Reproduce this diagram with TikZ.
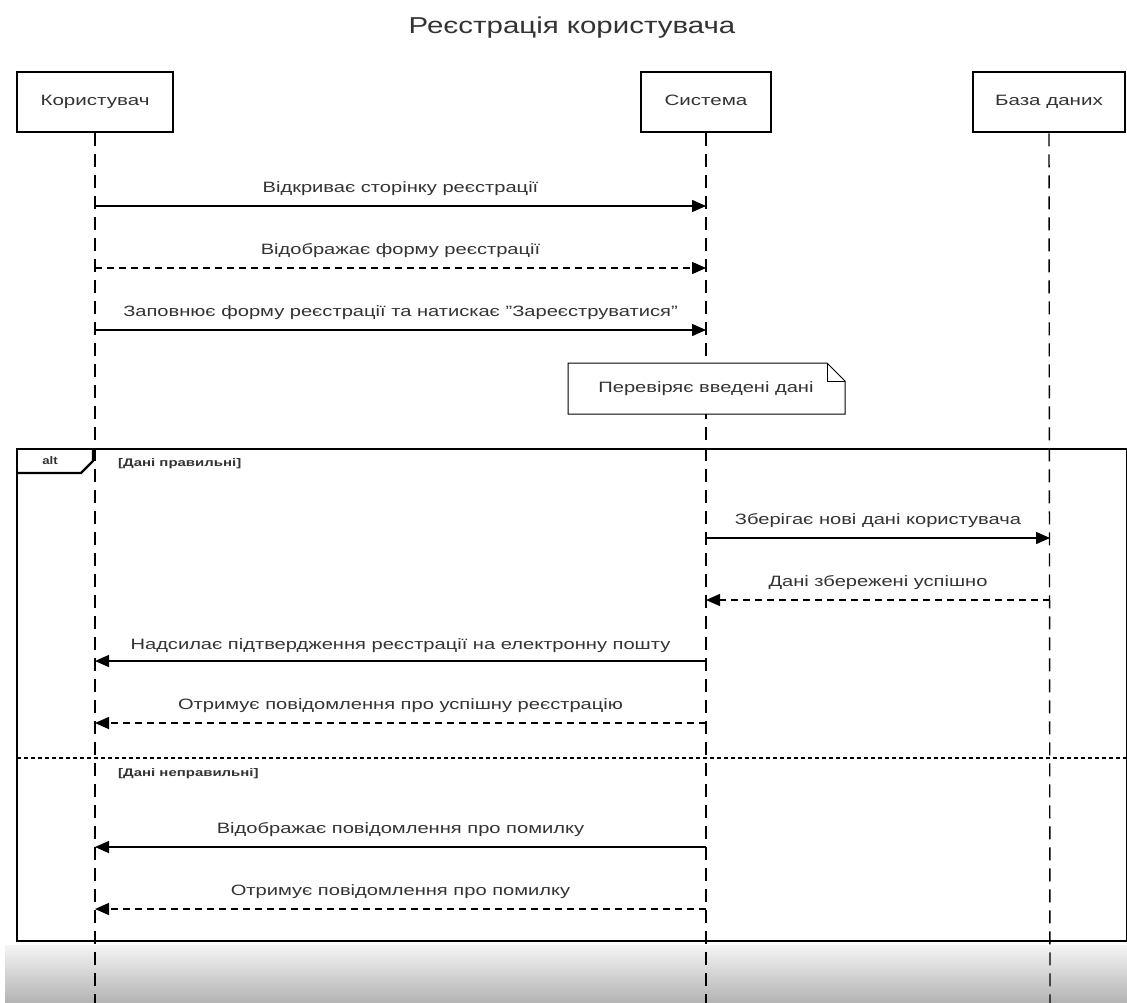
\documentclass[tikz,border=0pt]{standalone}
\usepackage{fontspec}
\usepackage{graphicx}
\setmainfont{Liberation Sans}
\usetikzlibrary{arrows.meta}
\definecolor{txt}{HTML}{333333}
% horizontally widened text
\newcommand\widetext[2][1.34]{\scalebox{#1}[1]{#2}}
\newcommand\sq{\char34\relax}
\tikzset{
  x=1pt, y=-1pt,
  actor/.style={draw=black, line width=2.6pt, fill=white, minimum width=#1, minimum height=60pt, inner sep=0pt, text height=11pt, text depth=3.5pt, font=\fontsize{15}{17}\selectfont, text=txt},
  lifeline/.style={line width=1.4pt, dash pattern=on 13pt off 8pt},
  msg/.style={line width=1.4pt, -{Triangle[length=14pt,width=12pt]}},
  reply/.style={msg, dash pattern=on 7pt off 5pt},
  lbl/.style={font=\fontsize{15}{17}\selectfont, text=txt, inner sep=0pt, anchor=base},
  guard/.style={font=\bfseries\fontsize{11}{13}\selectfont, text=txt, inner sep=0pt, anchor=base west},
}
\begin{document}
\begin{tikzpicture}
\useasboundingbox (0,0) rectangle (1127,1003);
\fill[white] (0,0) rectangle (1127,1003);
% bottom shading strip
\shade[top color=white!96!black, bottom color=white!70!black] (5,945) rectangle (1127,1003);

% title
\node[font=\fontsize{23}{27}\selectfont, text=txt] (title) at (572,28) {\widetext[1.28]{Реєстрація користувача}};

% lifeline heads
\node[actor=156pt] (user) at (95,102) {\widetext[1.37]{Користувач}};
\node[actor=130pt] (sys) at (706,102) {\widetext[1.37]{Система}};
\node[actor=152pt] (db) at (1049,102) {\widetext[1.37]{База даних}};

\coordinate (userEnd) at (95,1003);
\coordinate (sysEnd) at (706,1003);
\coordinate (dbEnd) at (1050,1003);
\draw[lifeline] (user.south) -- (userEnd);
\draw[lifeline] (sys.south) -- (sysEnd);
\draw[lifeline] (db.south) -- (dbEnd);

% message anchors
\foreach \y in {206,268,330} {
  \coordinate (u\y) at (95,\y);
  \coordinate (s\y) at (706,\y);
}
\foreach \y in {538,600,661,723,847,909} {
  \coordinate (u\y) at (95,\y);
  \coordinate (s\y) at (706,\y);
  \coordinate (d\y) at (1050,\y);
}

\draw[msg] (u206) -- node[lbl, above=10pt] {\widetext{Відкриває сторінку реєстрації}} (s206);
\draw[reply] (u268) -- node[lbl, above=10pt] {\widetext{Відображає форму реєстрації}} (s268);
\draw[msg] (u330) -- node[lbl, above=10pt] {\widetext{Заповнює форму реєстрації та натискає \sq Зареєструватися\sq}} (s330);

% note
\draw[line width=1pt, fill=white] (568,363) -- (827,363) -- (845,381) -- (845,414) -- (568,414) -- cycle;
\draw[line width=1pt] (827,363) -- (827,381) -- (845,381);
\node[lbl, anchor=center] (note) at (706,389) {\widetext{Перевіряє введені дані}};

% alt frame
\draw[line width=2.4pt] (17,449) rectangle (1127,941);
\draw[line width=2.4pt] (17,473) -- (81,473) -- (93,461) -- (93,449);
\node[font=\bfseries\fontsize{11}{13}\selectfont, text=txt] (alt) at (50,461) {\widetext[1.2]{alt}};
\node[guard] (g1) at (118,466) {\widetext[1.36]{[Дані правильні]}};
\draw[line width=2pt, dash pattern=on 4pt off 3pt] (17,758) -- (1127,758);
\node[guard] (g2) at (118,776) {\widetext[1.36]{[Дані неправильні]}};

\draw[msg] (s538) -- node[lbl, above=10pt] {\widetext{Зберігає нові дані користувача}} (d538);
\draw[reply] (d600) -- node[lbl, above=10pt] {\widetext{Дані збережені успішно}} (s600);
\draw[msg] (s661) -- node[lbl, above=8pt] {\widetext{Надсилає підтвердження реєстрації на електронну пошту}} (u661);
\draw[reply] (s723) -- node[lbl, above=10pt] {\widetext{Отримує повідомлення про успішну реєстрацію}} (u723);
\draw[msg] (s847) -- node[lbl, above=10pt] {\widetext{Відображає повідомлення про помилку}} (u847);
\draw[reply] (s909) -- node[lbl, above=10pt] {\widetext{Отримує повідомлення про помилку}} (u909);
\end{tikzpicture}
\end{document}
